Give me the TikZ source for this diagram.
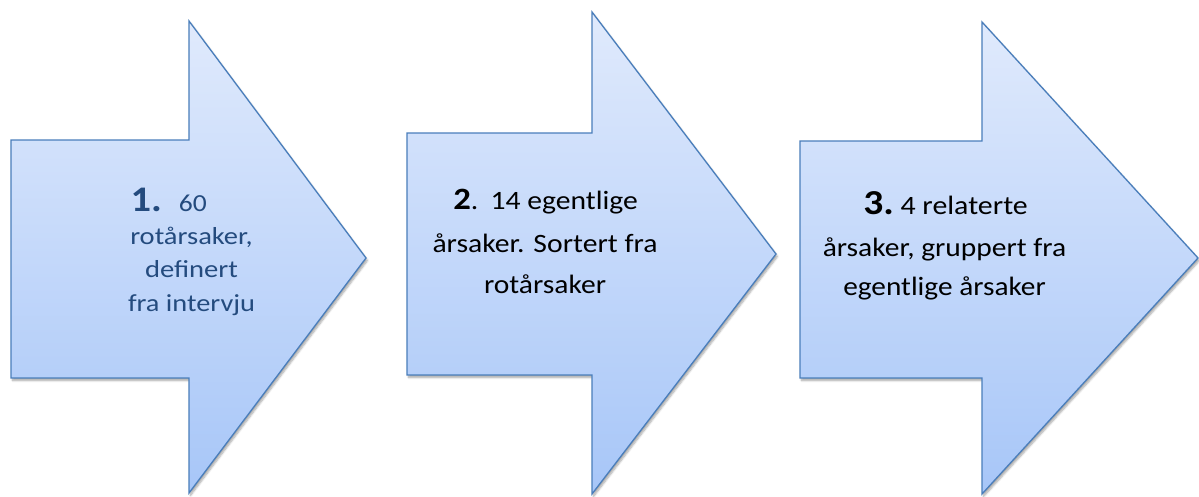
\documentclass[tikz,border=0pt]{standalone}
\usepackage{fontspec}
\setmainfont{Carlito}
\usetikzlibrary{shadows.blur}
\definecolor{arrowline}{HTML}{4A7EBB}
\definecolor{arrowtop}{HTML}{E0EAFC}
\definecolor{arrowbot}{HTML}{A7C6F8}
\definecolor{darkblue}{HTML}{244B7E}
\newcommand{\fitw}[2]{\resizebox{#1pt}{\height}{#2}}
\tikzset{
  bigarrow/.style={draw=arrowline, line width=1.3pt, line join=miter,
    top color=arrowtop, bottom color=arrowbot,
    blur shadow={shadow xshift=1.5pt, shadow yshift=-2.5pt, shadow blur steps=6, shadow opacity=35}},
  txt/.style={anchor=base, inner sep=0pt},
  txtw/.style={anchor=base west, inner sep=0pt},
  fa/.style={font=\fontsize{24.5}{26}\selectfont, text=darkblue},
  fb/.style={font=\fontsize{26.5}{28}\selectfont, text=black}
}
\begin{document}
\begin{tikzpicture}[x=1pt,y=-1pt]
\useasboundingbox (0,0) rectangle (1199,496);
% arrow 1
\path[bigarrow] (11,140) -- (189,140) -- (189,21) -- (366,258) -- (189,493) -- (189,378) -- (11,378) -- cycle;
% arrow 2
\path[bigarrow] (407,133) -- (592,133) -- (592,12) -- (776,254) -- (592,494) -- (592,375) -- (407,375) -- cycle;
% arrow 3
\path[bigarrow] (800,141) -- (982,141) -- (982,22) -- (1198,258) -- (982,494) -- (982,378) -- (800,378) -- cycle;
% texts arrow 1
\node[txtw, fa] (a1l1) at (130.5,211) {\fitw{76}{{\fontsize{36}{38}\selectfont\bfseries 1.}\hspace{15pt}60}};
\node[txt, fa] (a1l2) at (191.5,244) {\fitw{122.5}{rotårsaker,}};
\node[txt, fa] (a1l3) at (191.5,277.5) {\fitw{93}{definert}};
\node[txt, fa] (a1l4) at (191.5,311) {\fitw{127}{fra intervju}};
% texts arrow 2
\node[txt, fb] (a2l1) at (545.5,209) {\fitw{184.5}{{\fontsize{31}{32}\selectfont\bfseries 2}.\hspace{11pt}14 egentlige}};
\node[txt, fb] (a2l2) at (545,252.5) {\fitw{225}{årsaker. Sortert fra}};
\node[txt, fb] (a2l3) at (545,293.5) {\fitw{122}{rotårsaker}};
% texts arrow 3
\node[txt, fb] (a3l1) at (945.5,214.5) {\fitw{164.5}{{\fontsize{35}{36}\selectfont\bfseries 3.}\hspace{6pt}4 relaterte}};
\node[txt, fb] (a3l2) at (944.5,256.5) {\fitw{243.5}{årsaker, gruppert fra}};
\node[txt, fb] (a3l3) at (944.5,295) {\fitw{202.5}{egentlige årsaker}};
\end{tikzpicture}
\end{document}
